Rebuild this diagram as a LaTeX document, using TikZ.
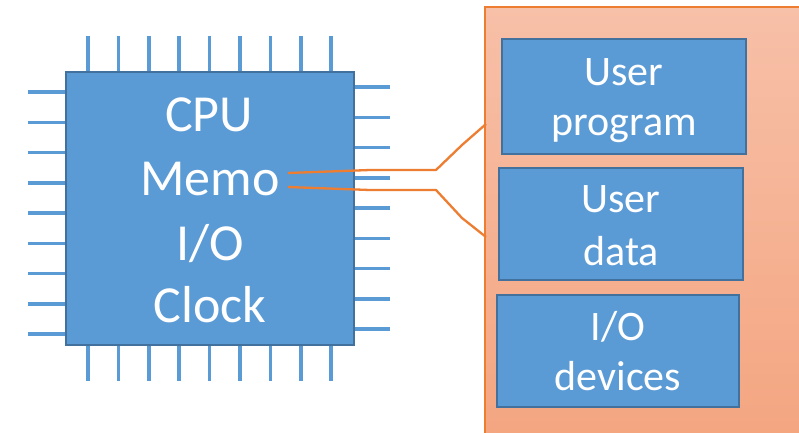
\documentclass[tikz,border=0pt]{standalone}
\usepackage{fontspec}
\setmainfont{Carlito}
\definecolor{boxblue}{HTML}{5B9BD5}
\definecolor{boxedge}{HTML}{41719C}
\definecolor{orangeline}{HTML}{ED7D31}
\definecolor{paneltop}{HTML}{F7C0A8}
\definecolor{panelbot}{HTML}{F4A580}
\tikzset{
  pin/.style={draw=boxblue, line width=3.5pt},
  bluebox/.style={draw=boxedge, fill=boxblue, line width=2.2pt, inner sep=0pt},
  boxtext/.style={text=white, anchor=base, inner sep=0pt, font=\fontsize{42}{51}\selectfont},
  cputext/.style={text=white, anchor=base, inner sep=0pt, font=\fontsize{52}{60}\selectfont},
  wire/.style={draw=orangeline, line width=2.3pt, line join=round}
}
\begin{document}
\begin{tikzpicture}[x=1pt,y=-1pt]
\clip (0,0) rectangle (799,432);
\fill[white] (0,0) rectangle (799,432);
% right panel
\path[top color=paneltop, bottom color=panelbot, draw=orangeline, line width=1.5pt] (485,7) rectangle (810,445);
\node[coordinate] (p1) at (486,124) {};
\node[coordinate] (p2) at (486,237) {};
% memory boxes
\node[bluebox, minimum width=244pt, minimum height=115pt] (prog) at (624,96.5) {};
\node[bluebox, minimum width=244pt, minimum height=112pt] (data) at (621,224) {};
\node[bluebox, minimum width=242pt, minimum height=112pt] (iodev) at (618,351) {};
\node[boxtext] (prog1) at (624,85) {User};
\node[boxtext] (prog2) at (624,135) {program};
\node[boxtext] (data1) at (621,212) {User};
\node[boxtext] (data2) at (621,265) {data};
\node[boxtext] (iodev1) at (618,340) {I/O};
\node[boxtext] (iodev2) at (618,390) {devices};
% pins
\foreach \i in {0,...,8} {
  \draw[pin] ({88+30.4*\i},36) -- ({88+30.4*\i},72);
  \draw[pin] ({88+30.4*\i},345) -- ({88+30.4*\i},381);
  \draw[pin] (28,{92+30.25*\i}) -- (66,{92+30.25*\i});
  \draw[pin] (354,{87+30.25*\i}) -- (390,{87+30.25*\i});
}
% CPU chip
\node[draw=boxedge, fill=boxblue, line width=2.2pt, minimum width=288pt, minimum height=273pt, inner sep=0pt] (cpu) at (210,208.5) {};
\node[cputext] (tcpu) at (209,131) {CPU};
\node[cputext] (memo) at (210,195) {Memo};
\node[cputext] (tio) at (210,260) {I/O};
\node[cputext] (tclock) at (210,322) {Clock};
% wires
\draw[wire] ([xshift=8pt,yshift=22pt]memo.base east) -- (370,170) -- (436,170) -- (462,145) -- (p1);
\draw[wire] ([xshift=8pt,yshift=8pt]memo.base east) -- (370,190) -- (436,190) -- (462,218) -- (p2);
\end{tikzpicture}
\end{document}
